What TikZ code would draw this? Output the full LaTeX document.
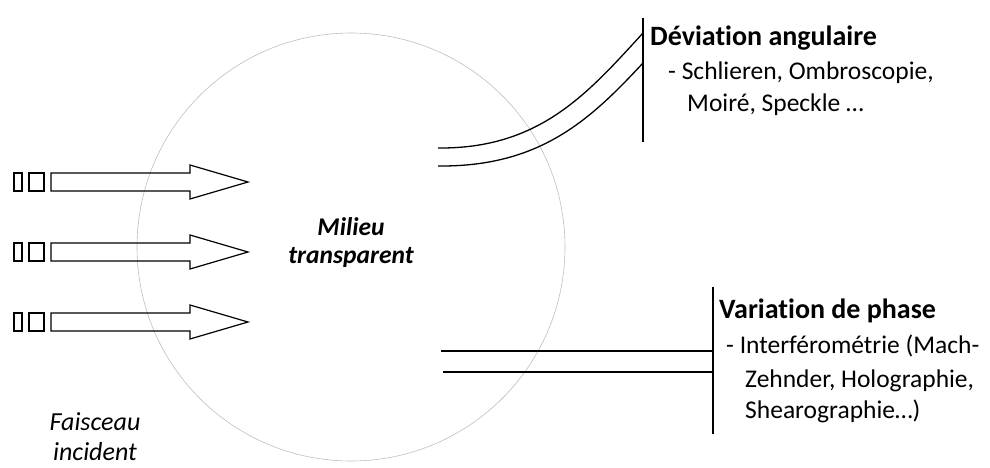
\documentclass[tikz,border=0pt]{standalone}
\usepackage{fontspec}
\setmainfont{Carlito}[Ligatures=NoCommon]
\usetikzlibrary{positioning}

\tikzset{
  beam/.style={draw=black, line width=1.2pt},
  ray/.style={draw=black, line width=1.3pt},
  screen/.style={draw=black, line width=1.3pt},
  titre/.style={font=\fontsize{28}{33}\selectfont\bfseries, anchor=base west, inner sep=0pt},
  liste/.style={font=\fontsize{25.5}{33}\selectfont, anchor=base west, inner sep=0pt},
  legende/.style={font=\fontsize{26}{30}\selectfont\itshape, align=center, inner sep=0pt},
}

\begin{document}
\begin{tikzpicture}[x=1pt,y=-1pt]
\useasboundingbox (0,0) rectangle (990,468);

% milieu transparent
\node (milieu) [circle, draw=black!25, line width=0.6pt, minimum size=428pt, inner sep=0pt] at (351,247) {};
\node (nom) [legende, font=\fontsize{25.5}{28}\selectfont\bfseries\itshape] at (351,243) {Milieu\\transparent};

% faisceau incident
\foreach \y in {182,252,322} {
  \draw[beam] (14,\y-9) rectangle (22,\y+9);
  \draw[beam] (29,\y-9) rectangle (44,\y+9);
  \draw[beam] (51,\y-9) -- (190,\y-9) -- (190,\y-17) -- (248,\y)
    -- (190,\y+17) -- (190,\y+9) -- (51,\y+9) -- cycle;
}
\node (faisceau) [legende] at (95,437) {Faisceau\\incident};

% deviation angulaire
\coordinate (d1) at (438,148);
\coordinate (d2) at (438,166);
\coordinate (e1) at (643,33);
\coordinate (e2) at (643,63);
\coordinate (ecranA) at (643,18);
\coordinate (ecranB) at (643,142);
\draw[ray] (d1) .. controls (540,149) and (588,93) .. (e1);
\draw[ray] (d2) .. controls (540,167) and (590,120) .. (e2);
\draw[screen] (ecranA) -- (ecranB);
\node (dev) [titre] at (650,46) {Déviation angulaire};
\node (dev1) [liste] at (668,80) {- Schlieren, Ombroscopie,};
\node (dev2) [liste] at (687,112) {Moiré, Speckle …};

% variation de phase
\coordinate (p1) at (441,351);
\coordinate (p2) at (443,372);
\coordinate (f1) at (713,351);
\coordinate (f2) at (713,372);
\coordinate (ecranC) at (713,287);
\coordinate (ecranD) at (713,434);
\draw[ray] (p1) -- (f1);
\draw[ray] (p2) -- (f2);
\draw[screen] (ecranC) -- (ecranD);
\node (pha) [titre] at (719,318) {Variation de phase};
\node (pha1) [liste] at (726,353) {- Interférométrie (Mach-};
\node (pha2) [liste] at (745,387) {Zehnder, Holographie,};
\node (pha3) [liste] at (745,418) {Shearographie…)};
\end{tikzpicture}
\end{document}
